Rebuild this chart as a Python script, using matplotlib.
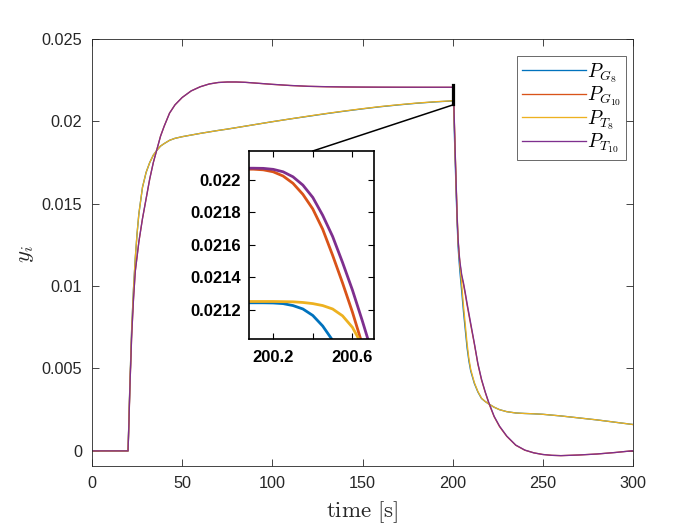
import numpy as np
import matplotlib
matplotlib.use('Agg')
import matplotlib.pyplot as plt
from matplotlib.patches import Rectangle, ConnectionPatch

plt.rcParams['mathtext.fontset'] = 'cm'
plt.rcParams['font.family'] = ['Liberation Sans', 'DejaVu Sans']

# ---------------- data (values in units of 1e-3) ----------------
T = [0, 20, 20.5, 21, 22, 23, 24, 25, 26,
     28, 30, 32, 34, 36, 38, 40,
     43, 46, 50, 55, 60, 65, 70, 75, 80, 85, 90,
     100, 110, 120, 130, 140, 150, 160, 170, 180, 190, 200,
     200.1, 200.15, 200.2, 200.25, 200.3, 200.35, 200.4, 200.45, 200.5, 200.55, 200.6, 200.65, 200.7,
     200.8, 201, 201.5, 202, 202.5, 203, 203.5, 204,
     205, 206, 207, 208, 209, 210,
     212, 214, 216, 218, 220,
     223, 226, 230, 235, 240, 245, 250, 255, 260,
     270, 280, 290, 300]

P_T10 = [0, 0, 1.8, 3.8, 7.0, 9.2, 10.9, 11.8, 12.7,
         14.1, 15.3, 16.5, 17.5, 18.3, 19.1, 19.7,
         20.5, 21.0, 21.45, 21.85, 22.1, 22.27, 22.36, 22.39, 22.39, 22.37, 22.33,
         22.25, 22.18, 22.13, 22.105, 22.09, 22.083, 22.078, 22.075, 22.073, 22.072, 22.072,
         22.072, 22.071, 22.065, 22.050, 22.019, 21.968, 21.892, 21.782, 21.652, 21.492, 21.322, 21.132, 20.932,
         20.55, 19.75, 17.8, 16.0, 14.2, 12.9, 12.1, 11.5,
         10.7, 10.2, 9.6, 8.95, 8.35, 7.75,
         6.55, 5.3, 4.35, 3.6, 2.95,
         2.1, 1.5, 0.9, 0.35, 0.05, -0.12, -0.22, -0.27, -0.29,
         -0.25, -0.19, -0.10, 0.01]

P_G10 = [0, 0, 1.8, 3.8, 7.0, 9.2, 10.9, 11.8, 12.7,
         14.1, 15.3, 16.5, 17.5, 18.3, 19.1, 19.7,
         20.5, 21.0, 21.45, 21.85, 22.1, 22.27, 22.36, 22.39, 22.39, 22.37, 22.33,
         22.245, 22.175, 22.125, 22.1, 22.085, 22.077, 22.072, 22.069, 22.067, 22.066, 22.066,
         22.066, 22.062, 22.050, 22.024, 21.979, 21.911, 21.821, 21.696, 21.536, 21.366, 21.186, 20.986, 20.786,
         20.4, 19.6, 17.65, 15.85, 14.05, 12.8, 12.0, 11.4,
         10.6, 10.1, 9.5, 8.85, 8.25, 7.65,
         6.5, 5.25, 4.3, 3.57, 2.9,
         2.07, 1.47, 0.88, 0.34, 0.04, -0.12, -0.22, -0.27, -0.29,
         -0.25, -0.19, -0.10, 0.01]

P_T8 = [0, 0, 2.0, 4.0, 7.4, 9.8, 11.7, 13.2, 14.4,
        16.0, 16.9, 17.5, 17.95, 18.25, 18.5, 18.65,
        18.85, 18.97, 19.07, 19.17, 19.27, 19.36, 19.45, 19.53, 19.62, 19.71, 19.8,
        19.98, 20.15, 20.32, 20.48, 20.63, 20.77, 20.9, 21.01, 21.11, 21.19, 21.251,
        21.251, 21.251, 21.251, 21.25, 21.249, 21.245, 21.238, 21.226, 21.205, 21.163, 21.092, 20.98, 20.82,
        20.42, 19.65, 17.75, 15.95, 14.3, 12.8, 12.0, 11.3,
        10.1, 8.8, 7.65, 6.5, 5.6, 4.95,
        4.15, 3.6, 3.2, 3.0, 2.85,
        2.65, 2.5, 2.38, 2.3, 2.27, 2.25, 2.22, 2.17, 2.12,
        2.0, 1.88, 1.74, 1.6]

P_G8 = [0, 0, 2.0, 4.0, 7.4, 9.8, 11.7, 13.2, 14.4,
        16.0, 16.9, 17.5, 17.95, 18.25, 18.5, 18.65,
        18.85, 18.97, 19.07, 19.17, 19.27, 19.36, 19.45, 19.53, 19.62, 19.71, 19.8,
        19.98, 20.15, 20.31, 20.47, 20.62, 20.76, 20.89, 21.0, 21.1, 21.18, 21.243,
        21.243, 21.243, 21.242, 21.238, 21.226, 21.205, 21.165, 21.10, 21.012, 20.88, 20.72, 20.53, 20.31,
        19.85, 19.05, 17.2, 15.4, 13.8, 12.4, 11.6, 10.9,
        9.7, 8.45, 7.35, 6.25, 5.45, 4.85,
        4.1, 3.57, 3.18, 3.0, 2.85,
        2.65, 2.5, 2.38, 2.3, 2.27, 2.25, 2.22, 2.17, 2.12,
        2.0, 1.88, 1.74, 1.6]

SERIES = [P_G8, P_G10, P_T8, P_T10]
LABELS = [r'$P_{G_8}$', r'$P_{G_{10}}$', r'$P_{T_8}$', r'$P_{T_{10}}$']
COLORS = ['#0072BD', '#D95319', '#EDB120', '#7E2F8E']

XTICKS = [0, 50, 100, 150, 200, 250, 300]
YTICKS = [0, 0.005, 0.01, 0.015, 0.02, 0.025]
YTICKLABELS = ['0', '0.005', '0.01', '0.015', '0.02', '0.025']

INSET_X = (200.078, 200.709)
INSET_Y = (0.02102, 0.022178)
INSET_XTICKS = [200.2, 200.4, 200.6]
INSET_XTICKLABELS = ['200.2', '', '200.6']
INSET_YTICKS = [0.0212, 0.0214, 0.0216, 0.0218, 0.022]
INSET_YTICKLABELS = ['0.0212', '0.0214', '0.0216', '0.0218', '0.022']

AX_COL = '#262626'

t = np.array(T)
ys = [np.array(s) * 1e-3 for s in SERIES]
for s in ys:
    assert len(s) == len(t)

fig = plt.figure(figsize=(7, 5.25), dpi=100)
fig.patch.set_facecolor('white')
ax = fig.add_axes([92 / 700, 1 - 465.7 / 525, 541 / 700, 426.7 / 525])

for y, c, lab in zip(ys, COLORS, LABELS):
    ax.plot(t, y, color=c, lw=0.95, label=lab)

ax.set_xlim(0, 300)
ax.set_ylim(-0.0009, 0.025)
ax.set_xticks(XTICKS)
ax.set_xticklabels([str(v) for v in XTICKS])
ax.set_yticks(YTICKS)
ax.set_yticklabels(YTICKLABELS)
ax.tick_params(direction='in', length=5, width=0.6, top=True, right=True,
               colors=AX_COL, labelsize=11.7)
ax.tick_params(axis='x', pad=7.5)
ax.tick_params(axis='y', pad=7)
for sp in ax.spines.values():
    sp.set_color(AX_COL)
    sp.set_linewidth(0.6)

fig.text(361.7 / 700, 1 - 517 / 525, r'$\mathrm{time}\ [\mathrm{s}]$', ha='center',
         va='baseline', fontsize=16.5, color=AX_COL)
fig.text(25 / 700, 1 - 254 / 525, r'$y_i$', ha='center', va='center',
         rotation=90, fontsize=16.5, color=AX_COL)

leg = ax.legend(loc='upper right', bbox_to_anchor=(0.987, 0.960), fontsize=14,
                frameon=True, fancybox=False, handlelength=3.3, handletextpad=0.05,
                borderpad=0.25, labelspacing=0.0, borderaxespad=0)
leg.get_frame().set_edgecolor(AX_COL)
leg.get_frame().set_linewidth(0.6)

# zoom rectangle on main axes
ax.add_patch(Rectangle((INSET_X[0], INSET_Y[0]), INSET_X[1] - INSET_X[0],
                       INSET_Y[1] - INSET_Y[0], fill=False, ec='black', lw=1.6, zorder=5))

# inset
axins = fig.add_axes([249 / 700, 1 - 339 / 525, 125 / 700, 188 / 525])
for y, c in zip(ys, COLORS):
    axins.plot(t, y, color=c, lw=2.0)
axins.set_xlim(*INSET_X)
axins.set_ylim(*INSET_Y)
axins.set_xticks(INSET_XTICKS)
axins.set_xticklabels(INSET_XTICKLABELS)
axins.set_yticks(INSET_YTICKS)
axins.set_yticklabels(INSET_YTICKLABELS)
axins.tick_params(direction='in', length=4, width=0.8, top=True, right=True,
                  colors='black', labelsize=12)
axins.tick_params(axis='x', pad=8)
axins.tick_params(axis='y', pad=6)
for lab in axins.get_xticklabels() + axins.get_yticklabels():
    lab.set_fontweight('bold')
for sp in axins.spines.values():
    sp.set_color('black')
    sp.set_linewidth(1.2)

con = ConnectionPatch(xyA=(INSET_XTICKS[1], INSET_Y[1]), coordsA=axins.transData,
                      xyB=(INSET_X[1], INSET_Y[0]), coordsB=ax.transData,
                      color='black', lw=1.1)
fig.add_artist(con)

fig.savefig('out.png', dpi=100, facecolor='white')
